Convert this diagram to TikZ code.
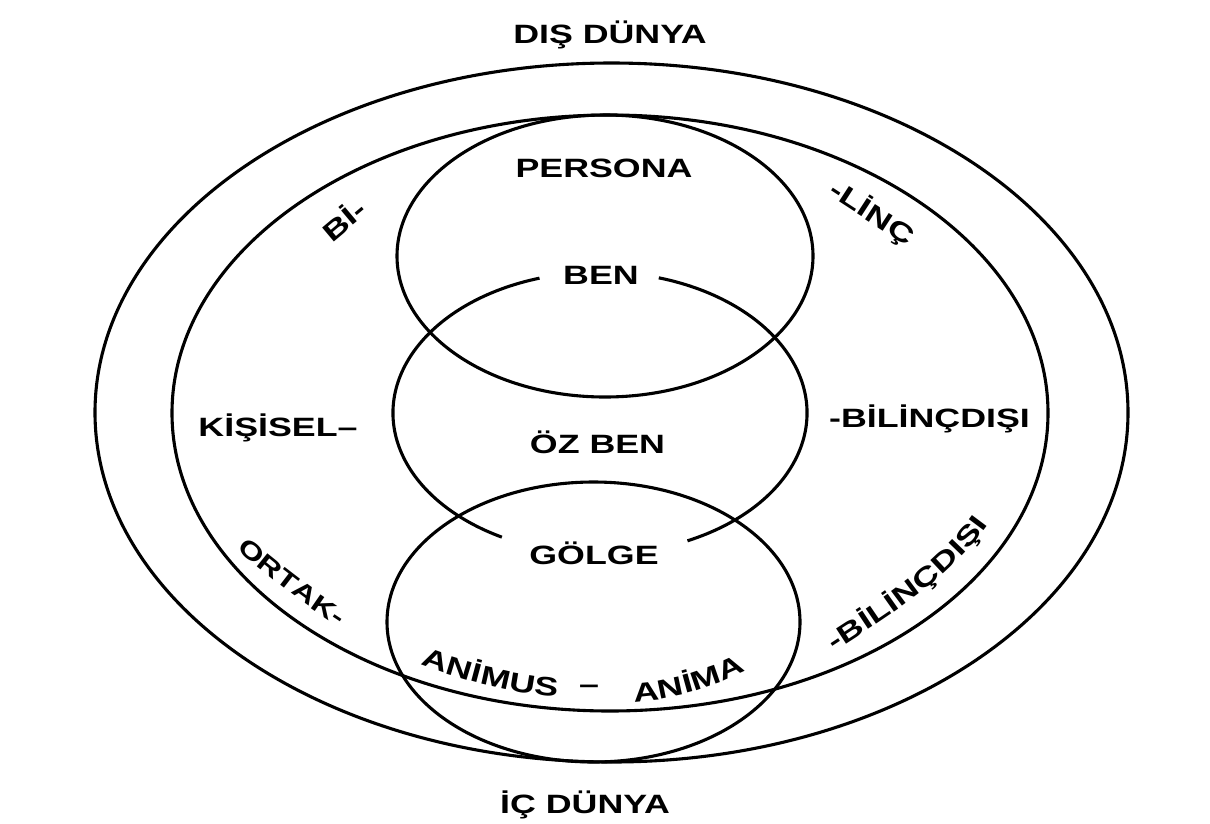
\documentclass[tikz,border=0pt]{standalone}
\usepackage{fontspec}
\newfontfamily\lblfamily{Liberation Sans}[FakeStretch=1.35]
\newcommand\lblfont{\lblfamily\bfseries\fontsize{26.5}{30}\selectfont}
\newcommand\lblfontsmall{\lblfamily\bfseries\fontsize{24.5}{28}\selectfont}
\usetikzlibrary{decorations.text}
\tikzset{
  ring/.style={draw=black, line width=3.1pt},
  lbl/.style={font=\lblfont, inner sep=0pt, text=black, anchor=base},
  curved/.style={decorate, decoration={text along path, text={|\lblfont|#1}, text align=center}},
  curvedsmall/.style={decorate, decoration={text along path, text={|\lblfontsmall|#1}, text align=center}}
}
\begin{document}
\begin{tikzpicture}[x=1pt,y=-1pt]
\useasboundingbox[fill=white] (0,0) rectangle (1210,823);
% centres
\coordinate (oc) at (611.5,412.5);
\coordinate (ic) at (610,413);
\coordinate (tc) at (605,256);
\coordinate (mc) at (600,413);
\coordinate (bc) at (593.5,622);
% rings
\draw[ring] (oc) ellipse[x radius=516.5pt, y radius=349.5pt];
\draw[ring] (ic) ellipse[x radius=438pt, y radius=298pt];
\draw[ring] (tc) ellipse[x radius=208pt, y radius=141pt];
\draw[ring] (bc) ellipse[x radius=206.5pt, y radius=140pt];
% middle ring with gaps
\draw[ring] ([shift={(107:207pt and 141pt)}]mc) arc[start angle=107, end angle=241.7, x radius=207pt, y radius=141pt];
\draw[ring] ([shift={(295:207pt and 141pt)}]mc) arc[start angle=295, end angle=433.5, x radius=207pt, y radius=141pt];
% labels
\node[lbl] (dis) at (610,43) {DIŞ DÜNYA};
\node[lbl] (ic2) at (585,813) {İÇ DÜNYA};
\node[lbl] (persona) at (604,177) {PERSONA};
\node[lbl] (ben) at (601,284) {BEN};
\node[lbl] (ozben) at (597.5,453) {ÖZ BEN};
\node[lbl] (golge) at (594,564) {GÖLGE};
\node[lbl] (kisisel) at (278,436) {KİŞİSEL–};
\node[lbl] (bilincdisi) at (929.5,427) {-BİLİNÇDIŞI};
\node[lbl, anchor=center, rotate=40] (bi) at (343,219) {Bİ-};
\node[lbl, anchor=center, rotate=-33] (linc) at (872,213) {-LİNÇ};
\node[lbl, anchor=center] (dash) at (589,689) {–};
% curved labels
\path[curved=ANİMUS] (416,663) .. controls (463,681) and (513,694) .. (562,697);
\path[curved=ANİMA] (630,702) .. controls (668,701) and (712,689) .. (750,669);
\path[curvedsmall=ORTAK-] (226,540) .. controls (260,570) and (298,601) .. (350,634);
\path[curved=-BİLİNÇDIŞI] (822,660) .. controls (875,624) and (955,580) .. (997,512);
\end{tikzpicture}
\end{document}
